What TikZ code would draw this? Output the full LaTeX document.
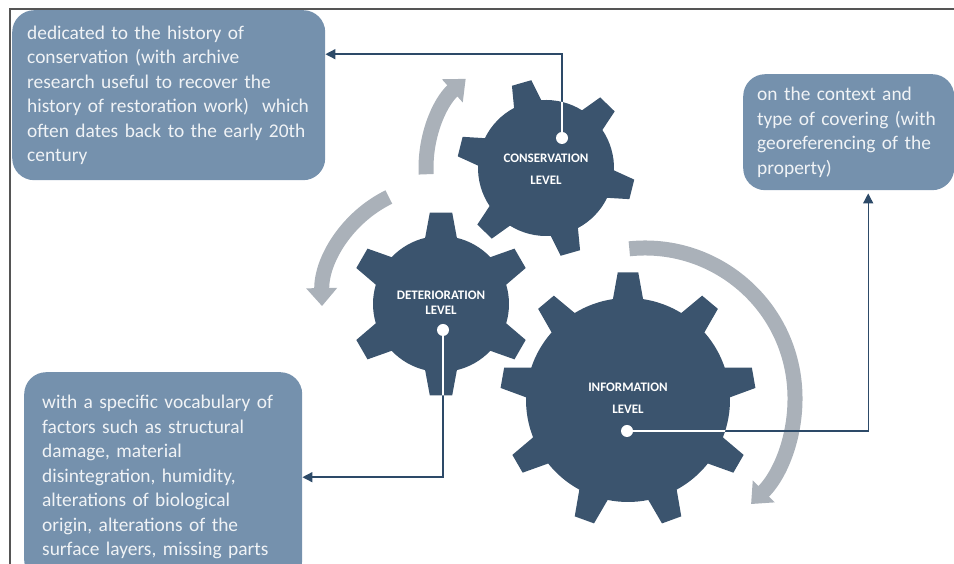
\documentclass[tikz,border=0pt]{standalone}
\usepackage{fontspec}
\setmainfont{Carlito}
\definecolor{gearblue}{RGB}{59,84,110}
\definecolor{boxblue}{RGB}{117,145,173}
\definecolor{boxtext}{RGB}{240,243,246}
\definecolor{cyclegrey}{RGB}{170,177,185}
\definecolor{linkblue}{RGB}{45,74,104}
\definecolor{framegrey}{RGB}{85,85,85}
\usetikzlibrary{arrows.meta,positioning,calc}

% gear outline: teeth, body radius, tip radius, first tooth angle, tip half angle, base half angle
\newcommand{\gearoutline}[6]{%
  ({#4-#6}:#2) \foreach \k in {1,...,#1}{
    -- ({#4+(\k-1)*360/#1-#5}:#3) -- ({#4+(\k-1)*360/#1+#5}:#3)
    -- ({#4+(\k-1)*360/#1+#6}:#2)
    arc[start angle={#4+(\k-1)*360/#1+#6}, end angle={#4+\k*360/#1-#6}, radius=#2]
  } -- cycle}

\begin{document}
\begin{tikzpicture}[x=1pt,y=1pt,
    infobox/.style={fill=boxblue, rounded corners=22pt, text=boxtext, align=left,
      anchor=north west, font=\fontsize{19.4}{24.5}\selectfont},
    geartext/.style={text=white, align=center, font=\fontsize{13}{22}\selectfont\bfseries},
    hub/.style={circle, fill=white, inner sep=0pt, minimum size=12pt},
    link/.style={draw=linkblue, line width=1.4pt},
    linktip/.style={-{Triangle[width=10pt,length=10pt]}},
    cyclearrow/.style={draw=cyclegrey, line width=15pt, -{Triangle[width=30pt,length=18pt]}}]
    \useasboundingbox (0,0) rectangle (954,564);

    % Frame
    \draw[framegrey, line width=1.5pt] (10,0) -- (10,555) -- (954,555);

    % Text boxes
    \node[infobox, inner xsep=15pt, text width=283pt, minimum height=170pt] (history) at (12,554)
      {dedicated to the history of\\
       conservation (with archive\\
       research useful to recover the\\
       \mbox{history of restoration work)\ \ which}\\
       often dates back to the early 20th\\
       century};
    \node[infobox, inner xsep=14pt, text width=183pt, minimum height=116pt] (context) at (743,490)
      {on the context and\\
       type of covering (with\\
       georeferencing of the\\
       property)};
    \node[infobox, inner xsep=18pt, text width=242pt, minimum height=210pt] (vocab) at (24,192)
      {with a specific vocabulary of\\
       factors such as structural\\
       damage, material\\
       disintegration, humidity,\\
       alterations of biological\\
       origin, alterations of the\\
       surface layers, missing parts};

    % Gear centres
    \coordinate (conscentre) at (546,396);
    \coordinate (detcentre) at (441,260);
    \coordinate (infocentre) at (628,164);
    \coordinate (infoarc) at (645,166);

    % Cycle arrows
    \draw[cyclearrow] ([shift={(183:120)}]conscentre) arc[start angle=183, end angle=132, radius=120];
    \draw[cyclearrow] ([shift={(116:119)}]detcentre) arc[start angle=116, end angle=181, radius=119];
    \draw[cyclearrow] ([shift={(96:150)}]infoarc) arc[start angle=96, end angle=-45, radius=150];

    % Hubs
    \node[hub] (consdot) at (562,426) {};
    \node[hub] (detdot) at (443,234) {};
    \node[hub] (infodot) at (627,133) {};

    % Links to the boxes
    \draw[link, linktip] (consdot) |- ([yshift=41pt]history.east);
    \draw[link, linktip] (detdot) |- (vocab.east);
    \draw[link, linktip] (infodot) -| ([xshift=19.5pt, yshift=-3pt]context.south);

    % Gears
    \fill[gearblue, shift={(conscentre)}] \gearoutline{6}{68}{89}{106}{6.5}{12};
    \fill[gearblue, shift={(detcentre)}] \gearoutline{6}{68}{92}{90}{7}{13.5};
    \fill[gearblue, shift={(infocentre)}] \gearoutline{9}{102}{128}{90}{4.6}{8.5};

    % Links inside the gears
    \begin{scope}
      \clip[shift={(conscentre)}] \gearoutline{6}{68}{89}{106}{6.5}{12};
      \draw[link, draw=white] (consdot) |- ([yshift=41pt]history.east);
    \end{scope}
    \begin{scope}
      \clip[shift={(detcentre)}] \gearoutline{6}{68}{92}{90}{7}{13.5};
      \draw[link, draw=white] (detdot) |- (vocab.east);
    \end{scope}
    \begin{scope}
      \clip[shift={(infocentre)}] \gearoutline{9}{102}{128}{90}{4.6}{8.5};
      \draw[link, draw=white] (infodot) -| ([xshift=19.5pt, yshift=-3pt]context.south);
    \end{scope}
    \node[hub] at (consdot) {};
    \node[hub] at (detdot) {};
    \node[hub] at (infodot) {};

    % Gear labels
    \node[geartext] (conslabel) at (546,395) {CONSERVATION\\LEVEL};
    \node[geartext, font=\fontsize{13}{15}\selectfont\bfseries] (detlabel) at (441,261.5) {DETERIORATION\\LEVEL};
    \node[geartext] (infolabel) at (628,165.5) {INFORMATION\\LEVEL};
\end{tikzpicture}
\end{document}
